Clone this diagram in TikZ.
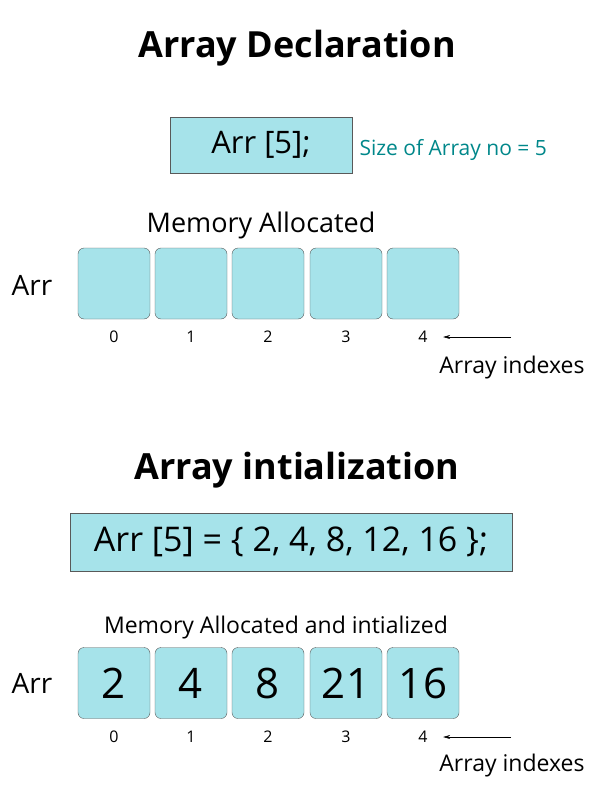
\documentclass[tikz,border=0pt]{standalone}
\usepackage{fontspec}
\setmainfont{Open Sans}
\usetikzlibrary{arrows.meta}
\definecolor{cellfill}{HTML}{A6E3EA}
\definecolor{teal2}{HTML}{00878A}
\begin{document}
\begin{tikzpicture}[x=1pt,y=-1pt,
  cell/.style={draw=black!65,fill=cellfill,rounded corners=6pt,minimum width=72pt,minimum height=71pt,inner sep=0pt,font=\fontsize{42}{46}\selectfont},
  box/.style={draw=black!65,fill=cellfill,inner sep=0pt},
  idx/.style={font=\fontsize{16}{18}\selectfont},
  lbl/.style={font=\fontsize{28}{32}\selectfont},
  ptr/.style={-{Stealth[length=7pt,width=4pt]},line width=0.6pt},
  title/.style={font=\bfseries\fontsize{36}{40}\selectfont}]
\useasboundingbox (0,0) rectangle (600,800);
\node[title] (t1) at (297,48) {Array Declaration};
\node[box,minimum width=182pt,minimum height=56pt,font=\fontsize{31}{35}\selectfont] (decl) at (261,145) {Arr [5];};
\node[anchor=west,text=teal2,font=\fontsize{21}{24}\selectfont] (size) at (356,150) {Size of Array no = 5};
\node[lbl,font=\fontsize{27}{30}\selectfont] (m1) at (261,225) {Memory Allocated};
\node[lbl] (arr1) at (32,285) {Arr};
\foreach \i/\x in {0/114,1/191,2/268,3/346,4/423}{
  \node[cell] (a\i) at (\x,283.5) {};
  \node[idx] (ia\i) at (\x,337) {\i};
}
\coordinate (e1) at (511,337);
\draw[ptr] (e1) -- ([xshift=12pt]ia4.east);
\node[font=\fontsize{23}{26}\selectfont] (ai1) at (512,368) {Array indexes};

\node[title] (t2) at (297,470) {Array intialization};
\node[box,minimum width=442pt,minimum height=58pt,font=\fontsize{34}{38}\selectfont] (init) at (291,542) {Arr [5] = \{ 2, 4, 8, 12, 16 \};};
\node[font=\fontsize{23}{26}\selectfont] (m2) at (276,628) {Memory Allocated and intialized};
\node[lbl] (arr2) at (32,683) {Arr};
\foreach \i/\x/\v in {0/114/2,1/191/4,2/268/8,3/346/21,4/423/16}{
  \node[cell] (b\i) at (\x,683) {\v};
  \node[idx] (ib\i) at (\x,737) {\i};
}
\coordinate (e2) at (511,737);
\draw[ptr] (e2) -- ([xshift=12pt]ib4.east);
\node[font=\fontsize{23}{26}\selectfont] (ai2) at (512,766) {Array indexes};
\end{tikzpicture}
\end{document}
